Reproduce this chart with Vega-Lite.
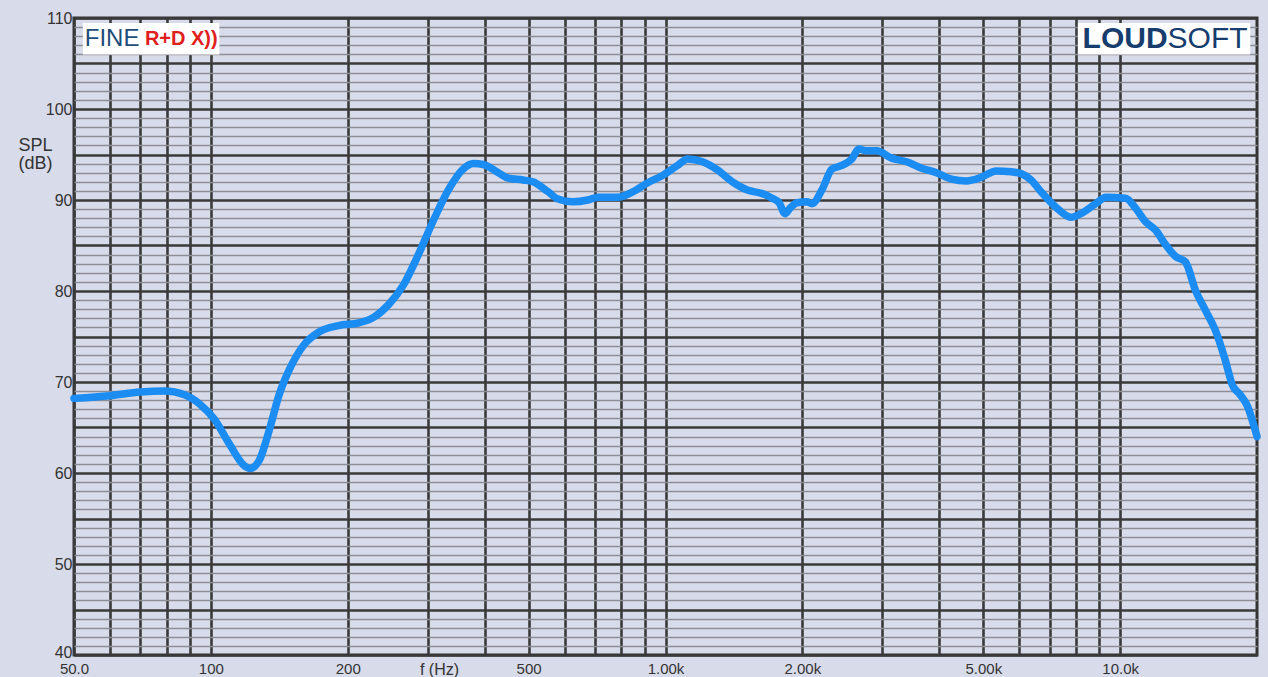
{
  "$schema": "https://vega.github.io/schema/vega-lite/v6.json",
  "width": 1183,
  "height": 637,
  "autosize": {"type": "none"},
  "padding": {"left": 74, "top": 18, "right": 11, "bottom": 22},
  "background": "#d8dbea",
  "config": {
    "view": {"stroke": "#333333", "strokeWidth": 3, "fill": "#d8dbea"},
    "font": "Liberation Sans"
  },
  "datasets": {
    "spl": [
      {"f": 50, "db": 68.2}, {"f": 60, "db": 68.5}, {"f": 70, "db": 68.9}, {"f": 79, "db": 69.0},
      {"f": 87.5, "db": 68.6}, {"f": 94.4, "db": 67.6}, {"f": 101.8, "db": 65.9}, {"f": 109.8, "db": 63.2},
      {"f": 118.5, "db": 60.8}, {"f": 122, "db": 60.5}, {"f": 127.8, "db": 61.4}, {"f": 134.4, "db": 64.7},
      {"f": 141.3, "db": 68.6}, {"f": 148.6, "db": 71.3}, {"f": 160.3, "db": 74.1}, {"f": 172.9, "db": 75.5},
      {"f": 191, "db": 76.2}, {"f": 211.6, "db": 76.5}, {"f": 228, "db": 77.1}, {"f": 246, "db": 78.5},
      {"f": 265.5, "db": 80.7}, {"f": 286, "db": 84.0}, {"f": 309, "db": 87.8}, {"f": 333, "db": 91.1},
      {"f": 359, "db": 93.4}, {"f": 378, "db": 94.0}, {"f": 397, "db": 93.9}, {"f": 429, "db": 93.0},
      {"f": 451, "db": 92.4}, {"f": 486, "db": 92.2}, {"f": 511, "db": 92.0}, {"f": 552, "db": 90.9},
      {"f": 580, "db": 90.1}, {"f": 626, "db": 89.8}, {"f": 675, "db": 90.0}, {"f": 710, "db": 90.3},
      {"f": 785, "db": 90.3}, {"f": 847, "db": 90.9}, {"f": 914, "db": 91.9}, {"f": 985, "db": 92.7},
      {"f": 1063, "db": 93.8}, {"f": 1118, "db": 94.5}, {"f": 1206, "db": 94.2}, {"f": 1301, "db": 93.3},
      {"f": 1403, "db": 92.0}, {"f": 1513, "db": 91.1}, {"f": 1632, "db": 90.7}, {"f": 1716, "db": 90.2},
      {"f": 1778, "db": 89.7}, {"f": 1832, "db": 88.5}, {"f": 1879, "db": 89.1}, {"f": 1947, "db": 89.7},
      {"f": 2048, "db": 89.8}, {"f": 2100, "db": 89.6}, {"f": 2208, "db": 91.1}, {"f": 2323, "db": 93.4},
      {"f": 2443, "db": 93.8}, {"f": 2569, "db": 94.5}, {"f": 2661, "db": 95.6}, {"f": 2771, "db": 95.4},
      {"f": 2914, "db": 95.4}, {"f": 3144, "db": 94.6}, {"f": 3391, "db": 94.2}, {"f": 3658, "db": 93.5},
      {"f": 3945, "db": 93.0}, {"f": 4256, "db": 92.3}, {"f": 4590, "db": 92.1}, {"f": 4950, "db": 92.5},
      {"f": 5339, "db": 93.2}, {"f": 5758, "db": 93.1}, {"f": 6056, "db": 92.9}, {"f": 6370, "db": 92.2},
      {"f": 6700, "db": 90.9}, {"f": 7226, "db": 89.2}, {"f": 7793, "db": 88.1}, {"f": 8196, "db": 88.5},
      {"f": 8840, "db": 89.6}, {"f": 9297, "db": 90.3}, {"f": 10284, "db": 90.2}, {"f": 10815, "db": 89.1},
      {"f": 11374, "db": 87.6}, {"f": 11963, "db": 86.7}, {"f": 12583, "db": 85.1}, {"f": 13233, "db": 83.8},
      {"f": 13918, "db": 83.2}, {"f": 14639, "db": 80.1}, {"f": 15396, "db": 77.9}, {"f": 16193, "db": 75.7},
      {"f": 17031, "db": 72.4}, {"f": 17643, "db": 69.7}, {"f": 18369, "db": 68.6}, {"f": 19030, "db": 67.4},
      {"f": 20000, "db": 64.0}
    ],
    "one": [{}]
  },
  "layer": [
    {
      "data": {"name": "spl"},
      "mark": {"type": "line", "color": "#1a8cf2", "strokeWidth": 7.5, "interpolate": "monotone", "strokeCap": "round", "strokeJoin": "round"},
      "encoding": {
        "x": {
          "field": "f", "type": "quantitative",
          "scale": {"type": "log", "domain": [50, 20000], "nice": false},
          "axis": {
            "values": [50, 60, 70, 80, 90, 100, 200, 300, 400, 500, 600, 700, 800, 900, 1000, 2000, 3000, 4000, 5000, 6000, 7000, 8000, 9000, 10000],
            "tickCount": 200,
            "labelExpr": "datum.value == 50 ? '50.0' : datum.value == 100 ? '100' : datum.value == 200 ? '200' : datum.value == 500 ? '500' : datum.value == 1000 ? '1.00k' : datum.value == 2000 ? '2.00k' : datum.value == 5000 ? '5.00k' : datum.value == 10000 ? '10.0k' : ''",
            "labelOverlap": false,
            "labelFlush": false,
            "labelBound": false,
            "labelFontSize": 15,
            "labelColor": "#333333",
            "labelPadding": 6,
            "labelBaseline": "top",
            "ticks": false,
            "domain": false,
            "grid": true,
            "gridColor": "#3a3a3a",
            "gridWidth": 2.6,
            "gridOpacity": 1,
            "title": "f (Hz)",
            "titleFontSize": 16,
            "titleFontWeight": "normal",
            "titleColor": "#333333",
            "titleAnchor": null,
            "titleAlign": "center",
            "titleBaseline": "top",
            "titleX": 365,
            "titleY": 6
          }
        },
        "y": {
          "field": "db", "type": "quantitative",
          "scale": {"domain": [40, 110], "nice": false, "zero": false},
          "axis": {
            "values": [40,41,42,43,44,45,46,47,48,49,50,51,52,53,54,55,56,57,58,59,60,61,62,63,64,65,66,67,68,69,70,71,72,73,74,75,76,77,78,79,80,81,82,83,84,85,86,87,88,89,90,91,92,93,94,95,96,97,98,99,100,101,102,103,104,105,106,107,108,109,110],
            "tickCount": 500,
            "format": "d",
            "labelExpr": "datum.value % 10 === 0 ? datum.label : ''",
            "labelOverlap": false,
            "labelFlush": false,
            "labelBound": false,
            "labelFontSize": 16,
            "labelColor": "#333333",
            "labelPadding": 2,
            "labelOffset": {"condition": {"test": "datum.value === 40", "value": -3}, "value": 0},
            "ticks": false,
            "domain": false,
            "grid": true,
            "gridColor": {"condition": {"test": "datum.value % 5 === 0", "value": "#3a3a3a"}, "value": "#8e8f96"},
            "gridWidth": {"condition": {"test": "datum.value % 5 === 0", "value": 2.6}, "value": 1.6},
            "gridOpacity": 1,
            "title": ["SPL", "(dB)"],
            "titleFontSize": 18,
            "titleFontWeight": "normal",
            "titleColor": "#333333",
            "titleAngle": 0,
            "titleAnchor": null,
            "titleAlign": "center",
            "titleBaseline": "top",
            "titleLineHeight": 18,
            "titleX": -39,
            "titleY": 118
          }
        }
      }
    },
    {
      "data": {"name": "one"},
      "mark": {"type": "rect", "color": "white"},
      "encoding": {
        "x": {"datum": 52.3, "type": "quantitative"},
        "x2": {"datum": 104.4},
        "y": {"datum": 109.45, "type": "quantitative"},
        "y2": {"datum": 106.0}
      }
    },
    {
      "data": {"name": "one"},
      "mark": {"type": "text", "text": "FINE", "align": "left", "baseline": "middle", "fontSize": 24, "color": "#1f4e7a", "font": "Liberation Sans"},
      "encoding": {
        "x": {"datum": 52.8, "type": "quantitative"},
        "y": {"datum": 107.7, "type": "quantitative"}
      }
    },
    {
      "data": {"name": "one"},
      "mark": {"type": "text", "text": "R+D X))", "align": "left", "baseline": "middle", "fontSize": 20, "fontWeight": "bold", "color": "#e0201c", "font": "Liberation Sans"},
      "encoding": {
        "x": {"datum": 71.6, "type": "quantitative"},
        "y": {"datum": 107.7, "type": "quantitative"}
      }
    },
    {
      "data": {"name": "one"},
      "mark": {"type": "rect", "color": "white"},
      "encoding": {
        "x": {"datum": 8075, "type": "quantitative"},
        "x2": {"datum": 19325},
        "y": {"datum": 109.45, "type": "quantitative"},
        "y2": {"datum": 106.0}
      }
    },
    {
      "data": {"name": "one"},
      "mark": {"type": "text", "text": "LOUD", "align": "right", "baseline": "middle", "fontSize": 30, "fontWeight": "bold", "color": "#163d6e", "font": "Liberation Sans"},
      "encoding": {
        "x": {"datum": 12715, "type": "quantitative"},
        "y": {"datum": 107.7, "type": "quantitative"}
      }
    },
    {
      "data": {"name": "one"},
      "mark": {"type": "text", "text": "SOFT", "align": "left", "baseline": "middle", "fontSize": 30, "color": "#163d6e", "font": "Liberation Sans"},
      "encoding": {
        "x": {"datum": 12715, "type": "quantitative"},
        "y": {"datum": 107.7, "type": "quantitative"}
      }
    }
  ]
}
